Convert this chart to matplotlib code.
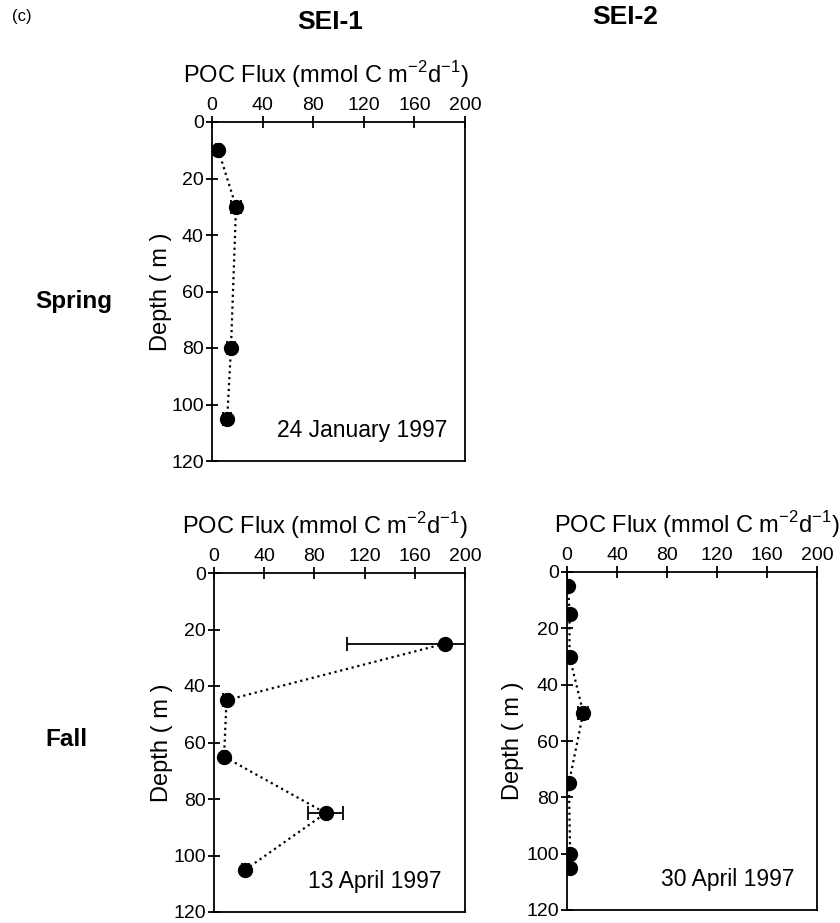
import matplotlib
matplotlib.use("Agg")
import matplotlib.pyplot as plt

plt.rcParams['font.family'] = ['Liberation Sans', 'DejaVu Sans']

# ---- data ----
jan_flux = [5, 19, 15, 12]
jan_depth = [10, 30, 80, 105]
jan_err = [2, 4, 3, 3]

apr13_flux = [184, 10, 8, 89, 25]
apr13_depth = [25, 45, 65, 85, 105]
apr13_err = [78, 3, 2, 14, 3]

apr30_flux = [1, 2, 2, 13, 1.5, 2.5, 2.5]
apr30_depth = [5, 15, 30, 50, 75, 100, 105]
apr30_err = [1, 1, 1, 4, 1, 1, 1]

xticks = [0, 40, 80, 120, 160, 200]
yticks = [0, 20, 40, 60, 80, 100, 120]
xlabel = r'POC Flux (mmol C m$^{\mathregular{-2}}$d$^{\mathregular{-1}}$)'

W, H = 840, 923
fig = plt.figure(figsize=(8.4, 9.23), dpi=100)

def rect(l, r, t, b):
    return [l / W, 1 - b / H, (r - l) / W, (b - t) / H]

def panel(r, flux, depth, err, date, date_x, xl_x, yl_x):
    ax = fig.add_axes(r)
    ax.errorbar(flux, depth, xerr=err, fmt='o', color='black', ms=10,
                ecolor='black', elinewidth=1.3, capsize=5, capthick=1.3,
                ls=':', lw=1.6, zorder=3)
    ax.set_xlim(0, 200)
    ax.set_ylim(120, 0)
    ax.set_xticks(xticks)
    ax.set_yticks(yticks)
    ax.xaxis.tick_top()
    ax.xaxis.set_label_position('top')
    ax.tick_params(direction='inout', length=8, width=1.3, labelsize=14,
                   pad=2)
    for s in ax.spines.values():
        s.set_linewidth(1.3)
    ax.set_xlabel(xlabel, fontsize=17)
    ax.xaxis.set_label_coords(xl_x, 1.115)
    ax.set_ylabel('Depth ( m )', fontsize=17)
    ax.yaxis.set_label_coords(yl_x, 0.5)
    ax.text(date_x, 0.09, date, transform=ax.transAxes, ha='right',
            va='center', fontsize=16.5)
    return ax

panel(rect(212, 465, 122, 461), jan_flux, jan_depth, jan_err,
      '24 January 1997', 0.93, 0.45, -0.16)
panel(rect(214, 465, 573, 912), apr13_flux, apr13_depth, apr13_err,
      '13 April 1997', 0.905, 0.44, -0.165)
panel(rect(567, 817, 572, 910), apr30_flux, apr30_depth, apr30_err,
      '30 April 1997', 0.91, 0.52, -0.17)

fig.text(12 / W, 1 - 16 / H, '(c)', fontsize=12, ha='left', va='center')
fig.text(330 / W, 1 - 22 / H, 'SEI-1', fontsize=19, fontweight='bold',
         ha='center', va='center')
fig.text(625 / W, 1 - 17 / H, 'SEI-2', fontsize=19, fontweight='bold',
         ha='center', va='center')
fig.text(74 / W, 1 - 302 / H, 'Spring', fontsize=17.5, fontweight='bold',
         ha='center', va='center')
fig.text(66 / W, 1 - 740 / H, 'Fall', fontsize=17.5, fontweight='bold',
         ha='center', va='center')

fig.savefig('out.png', dpi=100)
